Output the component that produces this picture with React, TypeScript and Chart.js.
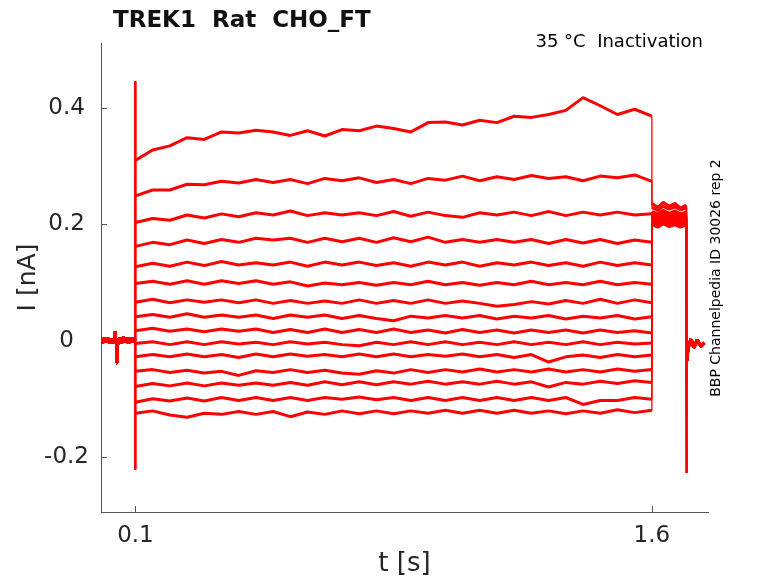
import React, { useEffect, useRef } from 'react';
import { Chart, registerables } from 'chart.js';

Chart.register(...registerables);

// holding period before the step (shared by every sweep)
const preTimes = [0, 0.005, 0.01, 0.015, 0.02, 0.025, 0.03, 0.035, 0.04, 0.042, 0.044, 0.046, 0.05, 0.055, 0.06, 0.065, 0.07, 0.075, 0.08, 0.085, 0.09, 0.095, 0.0995];
const preValues = [0.002, -0.004, 0.005, -0.003, 0.004, -0.005, 0.003, -0.004, 0.006, 0.016, -0.038, 0.004, -0.006, 0.005, -0.004, 0.006, -0.003, 0.005, -0.005, 0.004, -0.003, 0.005, 0.0];

// capacitive transient at step onset
const capTimes = [0.1, 0.1];
const capValues = [0.446, -0.222];

// test pulse, 0.1 s .. 1.6 s
const stepTimes = [0.1, 0.15, 0.2, 0.25, 0.3, 0.35, 0.4, 0.45, 0.5, 0.55, 0.6, 0.65, 0.7, 0.75, 0.8, 0.85, 0.9, 0.95, 1.0, 1.05, 1.1, 1.15, 1.2, 1.25, 1.3, 1.35, 1.4, 1.45, 1.5, 1.55, 1.6];

const sweep1 = [0.310, 0.328, 0.335, 0.349, 0.346, 0.359, 0.357, 0.362, 0.359, 0.353, 0.361, 0.352, 0.363, 0.361, 0.369, 0.365, 0.359, 0.375, 0.376, 0.371, 0.379, 0.375, 0.386, 0.384, 0.389, 0.396, 0.418, 0.404, 0.389, 0.398, 0.386];
const sweep2 = [0.249, 0.259, 0.259, 0.269, 0.268, 0.274, 0.271, 0.277, 0.272, 0.277, 0.270, 0.279, 0.275, 0.280, 0.272, 0.277, 0.270, 0.279, 0.276, 0.283, 0.275, 0.282, 0.277, 0.284, 0.279, 0.282, 0.275, 0.283, 0.280, 0.285, 0.274];
const sweep3 = [0.203, 0.210, 0.207, 0.216, 0.211, 0.218, 0.213, 0.220, 0.216, 0.223, 0.215, 0.220, 0.216, 0.220, 0.215, 0.222, 0.214, 0.221, 0.215, 0.212, 0.220, 0.216, 0.221, 0.215, 0.222, 0.215, 0.221, 0.216, 0.221, 0.216, 0.218];
const sweep4 = [0.162, 0.169, 0.165, 0.173, 0.167, 0.174, 0.169, 0.176, 0.173, 0.176, 0.169, 0.176, 0.170, 0.176, 0.169, 0.177, 0.170, 0.178, 0.169, 0.174, 0.169, 0.174, 0.169, 0.174, 0.167, 0.174, 0.168, 0.174, 0.167, 0.173, 0.169];
const sweep5 = [0.127, 0.133, 0.128, 0.135, 0.129, 0.136, 0.130, 0.134, 0.130, 0.135, 0.128, 0.135, 0.130, 0.135, 0.129, 0.134, 0.128, 0.135, 0.130, 0.135, 0.128, 0.134, 0.130, 0.135, 0.129, 0.134, 0.128, 0.135, 0.129, 0.134, 0.130];
const sweep6 = [0.098, 0.102, 0.097, 0.103, 0.097, 0.103, 0.098, 0.103, 0.097, 0.101, 0.094, 0.099, 0.096, 0.100, 0.095, 0.100, 0.096, 0.102, 0.096, 0.100, 0.095, 0.100, 0.096, 0.102, 0.096, 0.100, 0.096, 0.102, 0.096, 0.100, 0.097];
const sweep7 = [0.066, 0.071, 0.065, 0.070, 0.066, 0.070, 0.065, 0.070, 0.064, 0.069, 0.064, 0.068, 0.064, 0.070, 0.064, 0.069, 0.064, 0.070, 0.064, 0.068, 0.064, 0.059, 0.062, 0.067, 0.063, 0.069, 0.064, 0.071, 0.064, 0.070, 0.065];
const sweep8 = [0.041, 0.045, 0.040, 0.046, 0.040, 0.044, 0.040, 0.044, 0.038, 0.044, 0.040, 0.044, 0.038, 0.043, 0.038, 0.034, 0.042, 0.039, 0.043, 0.039, 0.043, 0.037, 0.042, 0.039, 0.043, 0.037, 0.042, 0.039, 0.043, 0.037, 0.041];
const sweep9 = [0.017, 0.021, 0.016, 0.020, 0.015, 0.020, 0.016, 0.020, 0.014, 0.019, 0.014, 0.020, 0.014, 0.019, 0.014, 0.020, 0.014, 0.018, 0.013, 0.019, 0.014, 0.018, 0.013, 0.018, 0.014, 0.018, 0.013, 0.018, 0.014, 0.017, 0.013];
const sweep10 = [-0.005, -0.002, -0.007, -0.002, -0.007, -0.002, -0.006, -0.003, -0.007, -0.002, -0.006, -0.003, -0.007, -0.009, -0.003, -0.007, -0.002, -0.007, -0.002, -0.007, -0.003, -0.007, -0.002, -0.007, -0.003, -0.007, -0.002, -0.007, -0.003, -0.006, -0.004];
const sweep11 = [-0.028, -0.024, -0.028, -0.023, -0.028, -0.024, -0.029, -0.023, -0.028, -0.023, -0.027, -0.024, -0.028, -0.023, -0.028, -0.023, -0.028, -0.024, -0.027, -0.023, -0.028, -0.024, -0.029, -0.024, -0.037, -0.028, -0.025, -0.029, -0.024, -0.028, -0.025];
const sweep12 = [-0.053, -0.050, -0.055, -0.051, -0.056, -0.053, -0.060, -0.052, -0.055, -0.050, -0.055, -0.051, -0.056, -0.058, -0.052, -0.056, -0.050, -0.055, -0.050, -0.054, -0.049, -0.054, -0.050, -0.054, -0.049, -0.054, -0.050, -0.054, -0.049, -0.053, -0.050];
const sweep13 = [-0.079, -0.074, -0.078, -0.073, -0.078, -0.073, -0.077, -0.073, -0.077, -0.072, -0.077, -0.071, -0.076, -0.071, -0.076, -0.071, -0.075, -0.070, -0.075, -0.071, -0.075, -0.070, -0.075, -0.071, -0.080, -0.072, -0.075, -0.070, -0.074, -0.069, -0.072];
const sweep14 = [-0.106, -0.100, -0.104, -0.099, -0.104, -0.098, -0.103, -0.098, -0.103, -0.098, -0.103, -0.098, -0.101, -0.097, -0.102, -0.098, -0.103, -0.098, -0.103, -0.098, -0.103, -0.098, -0.103, -0.098, -0.103, -0.098, -0.110, -0.103, -0.103, -0.098, -0.101];
const sweep15 = [-0.125, -0.121, -0.128, -0.132, -0.125, -0.127, -0.122, -0.127, -0.122, -0.131, -0.123, -0.127, -0.121, -0.126, -0.121, -0.126, -0.121, -0.125, -0.120, -0.125, -0.120, -0.125, -0.120, -0.125, -0.121, -0.126, -0.121, -0.125, -0.119, -0.124, -0.120];

const sweeps = [sweep1, sweep2, sweep3, sweep4, sweep5, sweep6, sweep7, sweep8, sweep9, sweep10, sweep11, sweep12, sweep13, sweep14, sweep15];

// tail current, 1.6 s .. 1.7 s
const tailTimes = [1.6, 1.617, 1.633, 1.65, 1.667, 1.683, 1.7];
const tails = [
  [0.236, 0.229, 0.238, 0.231, 0.236, 0.228, 0.233],
  [0.229, 0.224, 0.231, 0.226, 0.230, 0.225, 0.228],
  [0.222, 0.218, 0.224, 0.219, 0.223, 0.218, 0.221],
  [0.219, 0.215, 0.220, 0.216, 0.219, 0.214, 0.218],
  [0.216, 0.212, 0.217, 0.213, 0.216, 0.212, 0.215],
  [0.214, 0.210, 0.215, 0.211, 0.214, 0.210, 0.213],
  [0.212, 0.208, 0.213, 0.209, 0.212, 0.208, 0.211],
  [0.210, 0.206, 0.211, 0.207, 0.210, 0.206, 0.209],
  [0.209, 0.205, 0.210, 0.205, 0.209, 0.204, 0.208],
  [0.207, 0.203, 0.208, 0.204, 0.207, 0.203, 0.206],
  [0.206, 0.201, 0.207, 0.202, 0.205, 0.201, 0.205],
  [0.204, 0.200, 0.205, 0.201, 0.204, 0.199, 0.203],
  [0.203, 0.198, 0.204, 0.199, 0.202, 0.198, 0.202],
  [0.201, 0.197, 0.202, 0.198, 0.201, 0.196, 0.200],
  [0.200, 0.195, 0.201, 0.196, 0.199, 0.195, 0.199],
];

// return to holding after 1.7 s
const offTimes = [1.7, 1.7015, 1.704, 1.708, 1.714, 1.722, 1.732, 1.742, 1.752];
const offValues = [-0.228, -0.035, -0.018, -0.006, 0.002, -0.012, 0.001, -0.010, -0.004];

const xTicks = [0.1, 1.6];
const xTickLabels = ['0.1', '1.6'];
const yTicks = [-0.2, 0, 0.2, 0.4];
const yTickLabels = ['-0.2', '0', '0.2', '0.4'];

const FONT = 'DejaVu Sans';
const TEXT = '#262626';
const AXIS = '#555555';

const pts = (ts: number[], vs: number[]) => ts.map((t, i) => ({ x: t, y: vs[i] }));

const inwardTicks = {
  id: 'inwardTicks',
  beforeDatasetsDraw(chart: any) {
    const { ctx, chartArea, scales } = chart;
    ctx.save();
    ctx.strokeStyle = AXIS;
    ctx.lineWidth = 1;
    ctx.beginPath();
    xTicks.forEach((v) => {
      const px = Math.round(scales.x.getPixelForValue(v)) + 0.5;
      ctx.moveTo(px, chartArea.bottom);
      ctx.lineTo(px, chartArea.bottom - 6);
    });
    yTicks.forEach((v) => {
      const py = Math.round(scales.y.getPixelForValue(v)) + 0.5;
      ctx.moveTo(chartArea.left, py);
      ctx.lineTo(chartArea.left + 6, py);
    });
    ctx.stroke();
    ctx.restore();
  },
};

const labels = {
  id: 'labels',
  afterDraw(chart: any) {
    const { ctx } = chart;
    ctx.save();
    ctx.fillStyle = '#111111';
    ctx.font = `bold 23px "${FONT}"`;
    ctx.textAlign = 'left';
    ctx.textBaseline = 'alphabetic';
    ctx.fillText('TREK1  Rat  CHO_FT', 113, 27);

    ctx.fillStyle = '#000000';
    ctx.font = `18px "${FONT}"`;
    ctx.textAlign = 'right';
    ctx.fillText('35 °C  Inactivation', 703, 47);

    ctx.font = `14px "${FONT}"`;
    ctx.translate(716, 278);
    ctx.rotate(-Math.PI / 2);
    ctx.textAlign = 'center';
    ctx.textBaseline = 'middle';
    ctx.fillText('BBP Channelpedia ID 30026 rep 2', 0, 0);
    ctx.restore();
  },
};

export default function App() {
  const canvasRef = useRef<HTMLCanvasElement | null>(null);
  const chartRef = useRef<Chart | null>(null);

  useEffect(() => {
    if (!canvasRef.current) return;
    if (chartRef.current) chartRef.current.destroy();

    const datasets = sweeps.map((levels, i) => ({
      data: [
        ...pts(preTimes, preValues),
        ...pts(capTimes, capValues),
        ...pts(stepTimes, levels),
        ...pts(tailTimes, tails[i]),
        ...pts(offTimes, offValues),
      ],
      borderColor: '#ff0000',
      borderWidth: 3,
      borderJoinStyle: 'bevel' as const,
      pointRadius: 0,
      tension: 0,
      fill: false,
      // the jumps between levels are thin in the recording
      segment: {
        borderWidth: (c: any) => (Math.abs(c.p1.parsed.x - c.p0.parsed.x) < 0.002 ? 1.3 : 3),
      },
    }));

    chartRef.current = new Chart(canvasRef.current, {
      type: 'line',
      data: { datasets },
      options: {
        animation: false,
        responsive: false,
        events: [],
        layout: { padding: { left: 0, top: 43, right: 70, bottom: 0 } },
        plugins: { legend: { display: false }, tooltip: { enabled: false } },
        scales: {
          x: {
            type: 'linear',
            min: 0,
            max: 1.763,
            afterBuildTicks: (s: any) => { s.ticks = xTicks.map((v) => ({ value: v })); },
            afterFit: (s: any) => { s.height = 71; },
            grid: { display: false, drawTicks: false },
            border: { display: true, color: AXIS, width: 1 },
            ticks: {
              padding: 10,
              maxRotation: 0,
              color: TEXT,
              font: { family: FONT, size: 23 },
              callback: (v: any) => xTickLabels[xTicks.indexOf(Number(v))] ?? '',
            },
            title: {
              display: true,
              text: 't [s]',
              color: TEXT,
              font: { family: FONT, size: 26 },
              padding: { top: 0, bottom: 3 },
            },
          },
          y: {
            type: 'linear',
            min: -0.295,
            max: 0.512,
            afterBuildTicks: (s: any) => { s.ticks = yTicks.map((v) => ({ value: v })); },
            afterFit: (s: any) => { s.width = 101; },
            grid: { display: false, drawTicks: false },
            border: { display: true, color: AXIS, width: 1 },
            ticks: {
              padding: 12,
              crossAlign: 'center',
              color: TEXT,
              font: { family: FONT, size: 23 },
              callback: (v: any) => yTickLabels[yTicks.indexOf(Number(v))] ?? '',
            },
            title: {
              display: true,
              text: 'I [nA]',
              color: TEXT,
              font: { family: FONT, size: 25 },
              padding: { top: 13, bottom: 0 },
            },
          },
        },
      },
      plugins: [inwardTicks, labels],
    });

    return () => {
      if (chartRef.current) {
        chartRef.current.destroy();
        chartRef.current = null;
      }
    };
  }, []);

  return (
    <div style={{ position: 'fixed', left: 0, top: 0, width: 778, height: 583, background: '#ffffff' }}>
      <canvas ref={canvasRef} width={778} height={583} style={{ display: 'block' }} />
    </div>
  );
}
